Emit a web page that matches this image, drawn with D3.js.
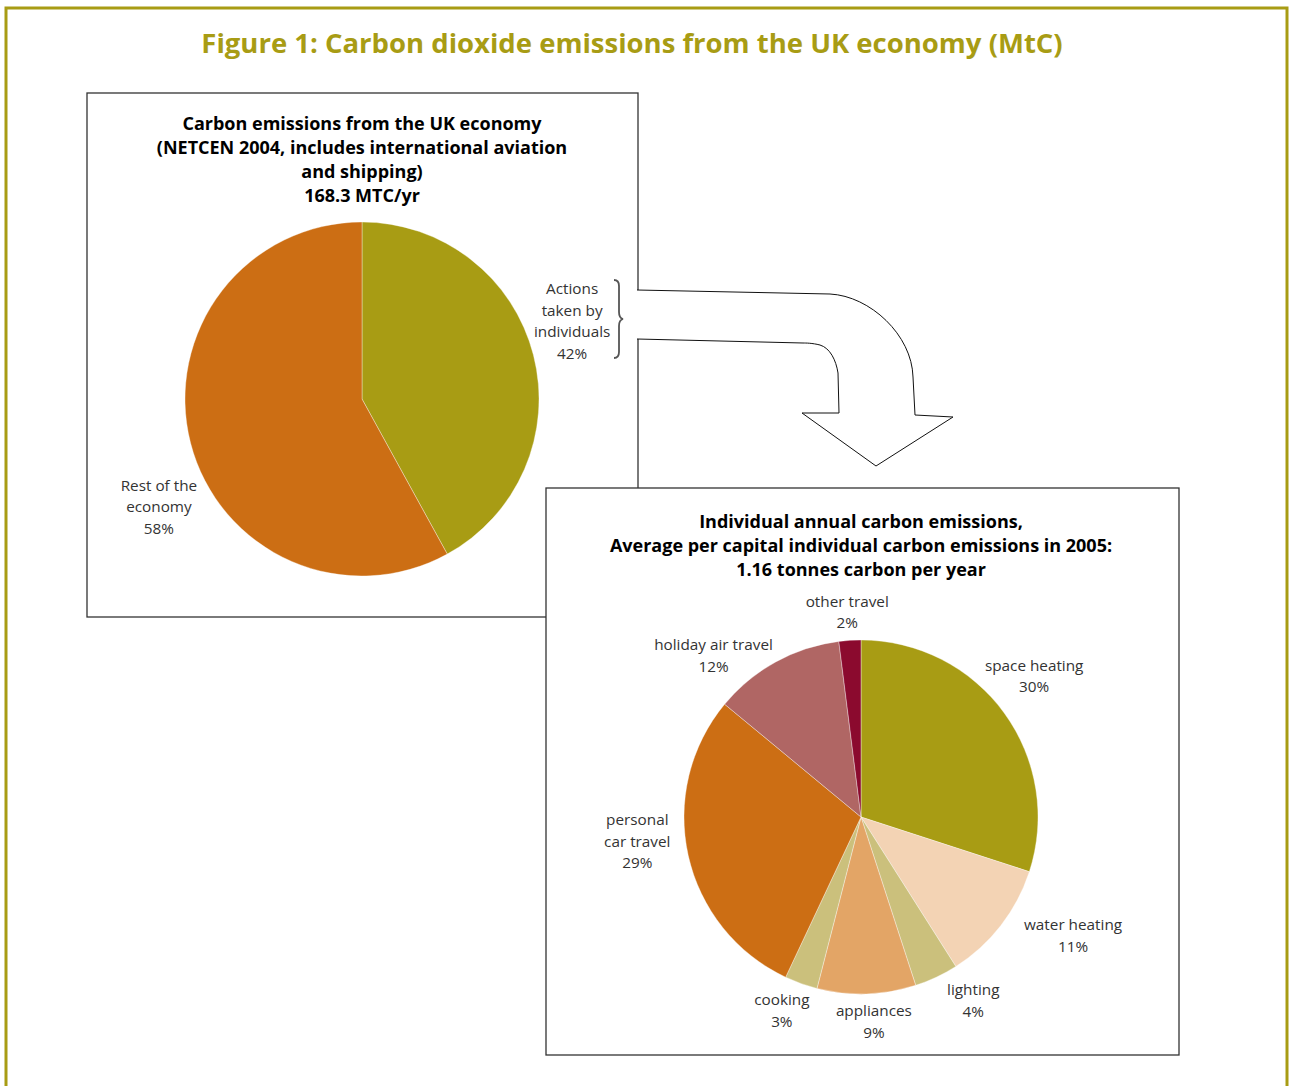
<!DOCTYPE html>
<html>
<head>
<meta charset="utf-8">
<script src="https://cdn.jsdelivr.net/npm/d3@7"></script>
<style>
  body { margin: 0; background: #fff; }
  svg { display: block; font-family: "Open Sans", "Noto Sans", sans-serif; }
</style>
</head>
<body>
<div id="chart"></div>
<script>
// Economy-wide split (NETCEN 2004)
const economyLabels = [["Actions", "taken by", "individuals"], ["Rest of the", "economy"]];
const economyValues = [42, 58];
const economyColors = ["#a89c14", "#cc6e14"];

// Individual annual carbon emissions, 2005
const individualLabels = [
  ["space heating"], ["water heating"], ["lighting"], ["appliances"],
  ["cooking"], ["personal", "car travel"], ["holiday air travel"], ["other travel"]
];
const individualValues = [30, 11, 4, 9, 3, 29, 12, 2];
const individualColors = ["#a89c14", "#f3d3b4", "#cbc07c", "#e3a566", "#cbc07c", "#cc6e14", "#b06664", "#8b0a2e"];

const titleText = "Figure 1: Carbon dioxide emissions from the UK economy (MtC)";
const economyTitle = ["Carbon emissions from the UK economy", "(NETCEN 2004, includes international aviation", "and shipping)", "168.3 MTC/yr"];
const individualTitle = ["Individual annual carbon emissions,", "Average per capital individual carbon emissions in 2005:", "1.16 tonnes carbon per year"];

const width = 1290, height = 1086;
const olive = "#a89c14";
const lineH = 21.5;

// label nudges (layout only): [dx, dy] from the label arc point
const economyNudge = [[-2, -24], [9, 53]];
const individualNudge = [[-4, -13], [39, -16], [19, -15], [6, -15], [-5, -13], [-10, -24], [-42, 30], [0, 13]];

const svg = d3.select("#chart").append("svg")
  .attr("width", width)
  .attr("height", height);

// outer frame
svg.append("rect")
  .attr("x", 6).attr("y", 8)
  .attr("width", 1281).attr("height", 1120)
  .attr("fill", "none")
  .attr("stroke", olive)
  .attr("stroke-width", 3);

svg.append("text")
  .attr("x", 632).attr("y", 42)
  .attr("text-anchor", "middle")
  .attr("dominant-baseline", "central")
  .style("font-size", "27.5px")
  .style("font-weight", "bold")
  .attr("fill", olive)
  .text(titleText);

function drawBlock(box, title, titleTop, cx, cy, r, labels, values, colors, nudge) {
  const g = svg.append("g");
  g.append("rect")
    .attr("x", box[0]).attr("y", box[1])
    .attr("width", box[2]).attr("height", box[3])
    .attr("fill", "#fff")
    .attr("stroke", "#333")
    .attr("stroke-width", 1.3);

  g.append("text")
    .attr("x", cx)
    .attr("text-anchor", "middle")
    .style("font-size", "18px")
    .style("font-weight", "bold")
    .attr("fill", "#000")
    .selectAll("tspan")
    .data(title)
    .join("tspan")
    .attr("x", cx)
    .attr("y", (d, i) => titleTop + i * 24)
    .attr("dominant-baseline", "central")
    .text((d) => d);

  const pie = d3.pie().sort(null).value((d) => d);
  const arcs = pie(values);
  const arc = d3.arc().innerRadius(0).outerRadius(r);
  const labelArc = d3.arc().innerRadius(r + 42).outerRadius(r + 42);

  const pg = g.append("g").attr("transform", `translate(${cx},${cy})`);
  pg.selectAll("path")
    .data(arcs)
    .join("path")
    .attr("d", arc)
    .attr("fill", (d, i) => colors[i])
    .attr("stroke", "#fff")
    .attr("stroke-opacity", 0.6)
    .attr("stroke-width", 0.6);

  pg.selectAll(".slice-label")
    .data(arcs)
    .join("text")
    .attr("class", "slice-label")
    .attr("text-anchor", "middle")
    .style("font-size", "15.3px")
    .attr("fill", "#333")
    .each(function (d, i) {
      const lines = labels[i].concat([values[i] + "%"]);
      const c = labelArc.centroid(d);
      const x = c[0] + nudge[i][0];
      const y0 = c[1] + nudge[i][1] - ((lines.length - 1) * lineH) / 2;
      d3.select(this)
        .selectAll("tspan")
        .data(lines)
        .join("tspan")
        .attr("x", x)
        .attr("y", (l, j) => y0 + j * lineH)
        .attr("dominant-baseline", "central")
        .text((l) => l);
    });
  return g;
}

drawBlock([87, 93, 551, 524], economyTitle, 123, 362, 399, 177,
  economyLabels, economyValues, economyColors, economyNudge);

// curly brace next to the individuals label
svg.append("path")
  .attr("d", "M614,280 Q619,280 619,286 L619,312 Q619,318 623,319 Q619,320 619,326 L619,352 Q619,358 614,358")
  .attr("fill", "none")
  .attr("stroke", "#555")
  .attr("stroke-width", 1.8);

// bent arrow from the top box down to the individual box
svg.append("path")
  .attr("d", "M637,290 L830,294 C870,296 912,335 913,377 L915,415 L953,417 L876,466 L802,413 L839,413 L838,373 C836,360 830,348 820,345 C812,343 806,343 803,343 L637,339")
  .attr("fill", "#fff")
  .attr("stroke", "#111")
  .attr("stroke-width", 1);

drawBlock([546, 488, 633, 567], individualTitle, 521, 861, 817, 177,
  individualLabels, individualValues, individualColors, individualNudge);
</script>
</body>
</html>
